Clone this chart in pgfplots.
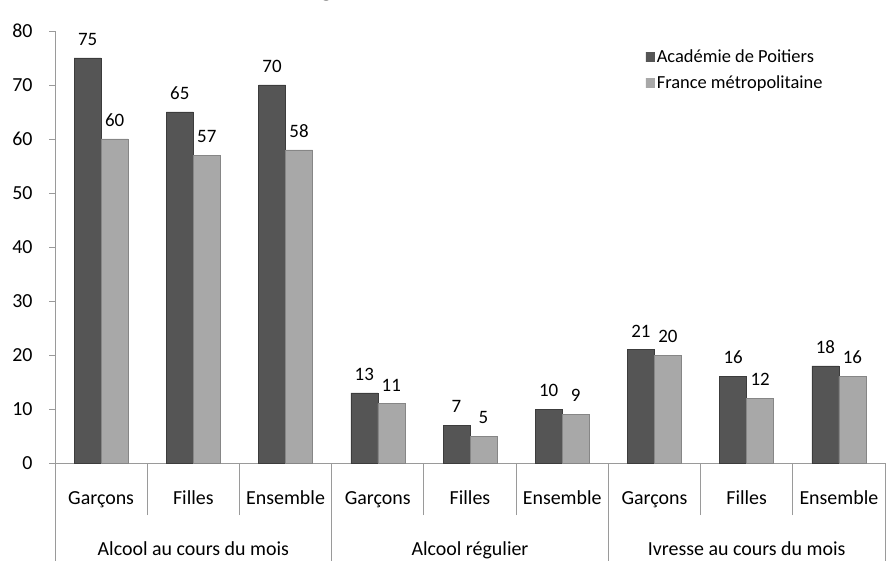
\documentclass[border=0pt]{standalone}
\usepackage{fontspec}
\setmainfont{Carlito}
\usepackage{pgfplots}
\pgfplotsset{compat=1.18}

\definecolor{darkbar}{HTML}{555555}
\definecolor{darkmid}{HTML}{6A6A6A}
\definecolor{lightbar}{HTML}{A8A8A8}
\definecolor{lightmid}{HTML}{C2C2C2}
\definecolor{axisgray}{HTML}{9A9A9A}

\begin{document}
\begin{tikzpicture}
\path[use as bounding box, clip] (-55bp,-98bp) rectangle (835bp,463bp);
\begin{axis}[
    at={(0,0)}, anchor=south west,
    scale only axis,
    width=830bp, height=432bp,
    ybar,
    ymin=0, ymax=80,
    ytick={0,10,...,80},
    xmin=-0.5, xmax=8.5,
    xtick={0,...,8},
    xticklabels={Garçons,Filles,Ensemble,Garçons,Filles,Ensemble,Garçons,Filles,Ensemble},
    minor xtick={0.5,1.5,3.5,4.5,6.5,7.5},
    minor tick length=52bp,
    axis lines*=left,
    axis line style={axisgray, line width=0.8bp},
    tick align=outside,
    x tick style={draw=none},
    minor x tick style={draw=axisgray, line width=0.8bp},
    y tick style={draw=axisgray, line width=0.8bp},
    major tick length=6bp,
    tick label style={font=\fontsize{20}{20}\selectfont},
    /pgf/number format/assume math mode=true,
    xticklabel style={text height=13bp, text depth=4bp, yshift=-19bp},
    yticklabel style={xshift=-13bp},
    clip=false,
    enlarge x limits=false,
    nodes near coords,
    every node near coord/.append style={font=\fontsize{19}{19}\selectfont, yshift=9bp},
    legend style={draw=none, fill=none, at={(0.708,0.966)}, anchor=north west,
        font=\fontsize{18.5}{18.5}\selectfont, row sep=8bp,
        /tikz/every even column/.append style={column sep=2bp}},
    legend cell align=left,
    legend image code/.code={\path[#1, draw=none] (0bp,-4.5bp) rectangle (9bp,4.5bp);},
]
\addplot[bar width=27bp, bar shift=-13.5bp, draw=darkbar!70!black, line width=0.4bp,
    left color=darkbar, middle color=darkmid, right color=darkbar] coordinates {
    (0,75) (1,65) (2,70) (3,13) (4,7) (5,10) (6,21) (7,16) (8,18)};
\addlegendentry{Académie de Poitiers}
\addplot[bar width=27bp, bar shift=13.5bp, draw=lightbar!80!black, line width=0.4bp,
    left color=lightbar, middle color=lightmid, right color=lightbar] coordinates {
    (0,60) (1,57) (2,58) (3,11) (4,5) (5,9) (6,20) (7,12) (8,16)};
\addlegendentry{France métropolitaine}

\pgfplotsinvokeforeach{-0.5,2.5,5.5,8.5}{
    \draw[axisgray, line width=0.8bp] (axis cs:#1,0) -- ([yshift=-98bp]axis cs:#1,0);
}
\node[anchor=base, font=\fontsize{20}{20}\selectfont] at (axis cs:1,0) [yshift=-92bp] {Alcool au cours du mois};
\node[anchor=base, font=\fontsize{20}{20}\selectfont] at (axis cs:4,0) [yshift=-92bp] {Alcool régulier};
\node[anchor=base, font=\fontsize{20}{20}\selectfont] at (axis cs:7,0) [yshift=-92bp] {Ivresse au cours du mois};
\end{axis}
\node[anchor=base east, inner sep=0pt, font=\bfseries\fontsize{26}{26}\selectfont]
    at (702bp,466bp) {Les usages d'alcool à 17 ans dans l'académie (\%)};
\end{tikzpicture}
\end{document}
